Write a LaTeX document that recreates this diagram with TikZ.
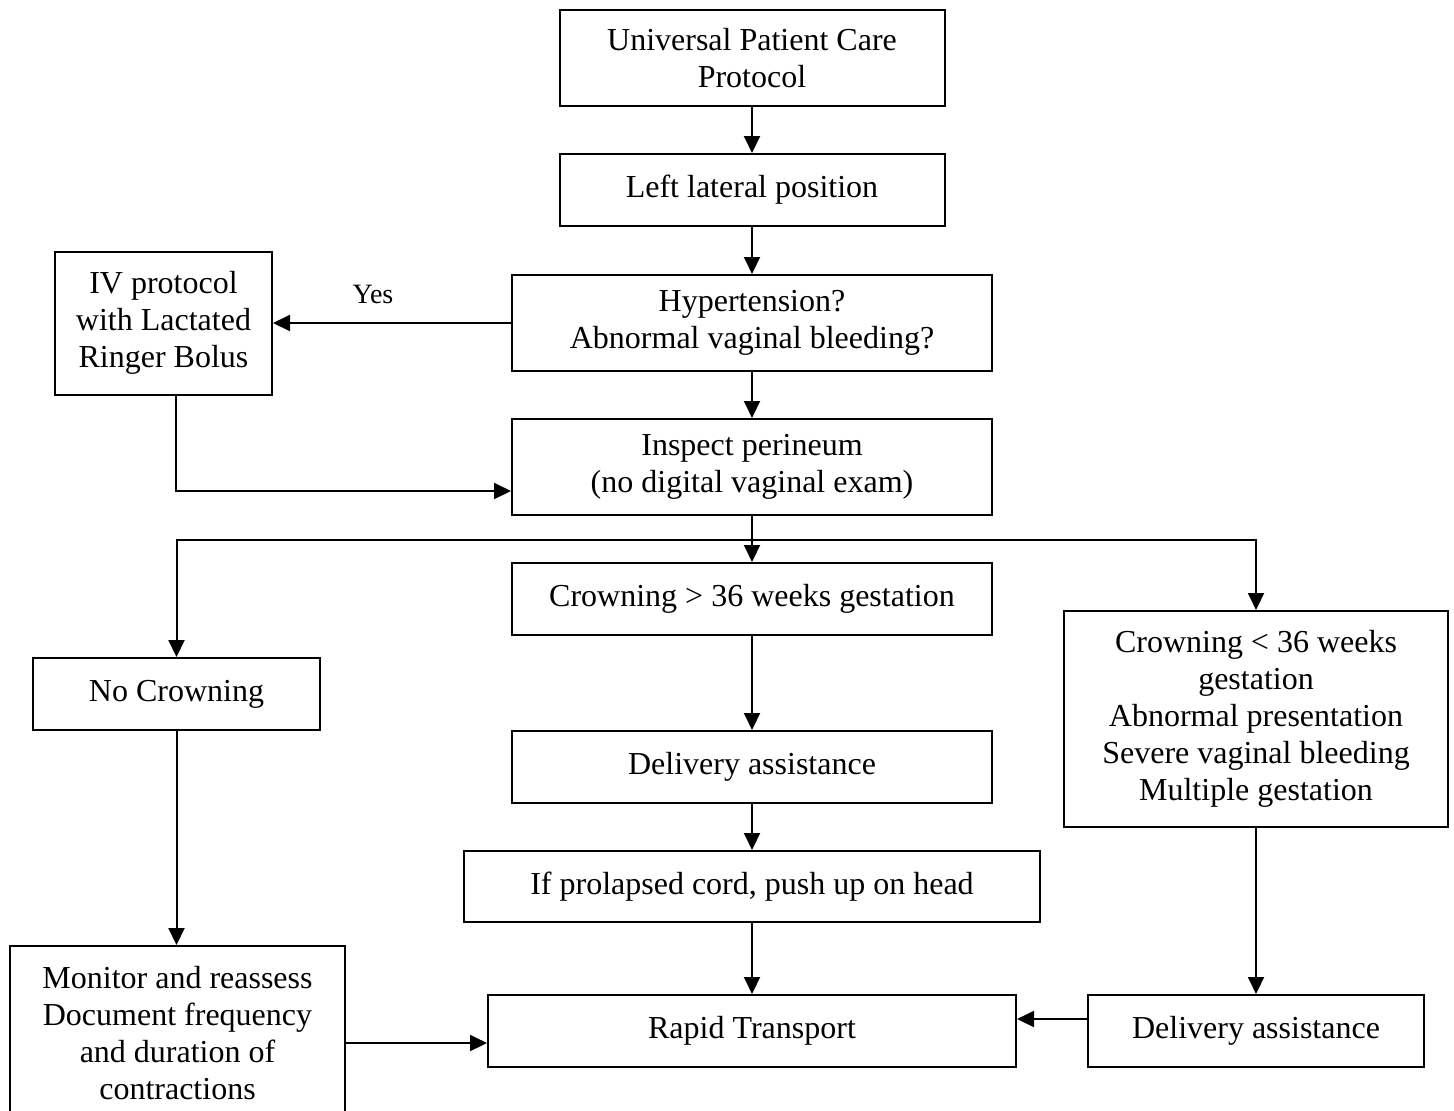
\documentclass[tikz,border=0pt]{standalone}
\usepackage{fontspec}
\setmainfont{Liberation Serif}
\usetikzlibrary{arrows.meta}
\begin{document}
\begin{tikzpicture}[x=0.5pt,y=-0.5pt,
  box/.style={draw, line width=1pt, align=center, inner sep=0pt,
    font=\fontsize{16}{18.5}\selectfont},
  arr/.style={line width=1pt, -{Triangle[length=8.5pt,width=8pt]}},
  lbl/.style={font=\fontsize{14}{16}\selectfont}]
\useasboundingbox (0,0) rectangle (1454,1110);
\clip (0,0) rectangle (1454,1110);

% boxes
\node[box, minimum width=192.5pt, minimum height=48pt] (upc) at (752,58) {Universal Patient Care\\Protocol};
\node[box, minimum width=192.5pt, minimum height=36pt] (llp) at (752,190) {Left lateral position};
\node[box, minimum width=240pt, minimum height=48pt] (htn) at (752,323) {Hypertension?\\Abnormal vaginal bleeding?};
\node[box, minimum width=108.5pt, minimum height=71.5pt] (iv) at (163.5,323) {IV protocol\\with Lactated\\Ringer Bolus};
\node[box, minimum width=240pt, minimum height=48pt] (insp) at (752,467) {Inspect perineum\\(no digital vaginal exam)};
\node[box, minimum width=240pt, minimum height=36pt] (c36) at (752,599) {Crowning > 36 weeks gestation};
\node[box, minimum width=143.5pt, minimum height=36pt] (noc) at (176.5,694) {No Crowning};
\node[box, minimum width=192pt, minimum height=108pt] (cl36) at (1256,719) {Crowning < 36 weeks\\gestation\\Abnormal presentation\\Severe vaginal bleeding\\Multiple gestation};
\node[box, minimum width=240pt, minimum height=36pt] (da1) at (752,767) {Delivery assistance};
\node[box, minimum width=288pt, minimum height=35.5pt] (pc) at (752,886.5) {If prolapsed cord, push up on head};
\node[box, minimum width=167.5pt, minimum height=87pt] (mon) at (177.5,1033) {Monitor and reassess\\Document frequency\\and duration of\\contractions};
\node[box, minimum width=264pt, minimum height=36pt] (rt) at (752,1031) {Rapid Transport};
\node[box, minimum width=168pt, minimum height=36pt] (da2) at (1256,1031) {Delivery assistance};

% routing points
\coordinate (split) at (752,540);
\coordinate (ym) at (0,1043);
\coordinate (yd) at (0,1019);

% connectors
\draw[arr] (upc) -- (llp);
\draw[arr] (llp) -- (htn);
\draw[arr] (htn.west) -- node[lbl, above=6pt, pos=0.58] {Yes} (iv.east);
\draw[arr] ([xshift=6.25pt]iv.south) |- ([yshift=-12pt]insp.west);
\draw[arr] (htn) -- (insp);
\draw[arr] (insp) -- (c36);
\draw[arr] (split) -| (noc);
\draw[arr] (split) -| (cl36);
\draw[arr] (c36) -- (da1);
\draw[arr] (da1) -- (pc);
\draw[arr] (pc) -- (rt);
\draw[arr] (noc.south) -- (noc.south |- mon.north);
\draw[arr] (mon.east |- ym) -- (rt.west |- ym);
\draw[arr] (cl36) -- (da2);
\draw[arr] (da2.west |- yd) -- (rt.east |- yd);
\end{tikzpicture}
\end{document}
